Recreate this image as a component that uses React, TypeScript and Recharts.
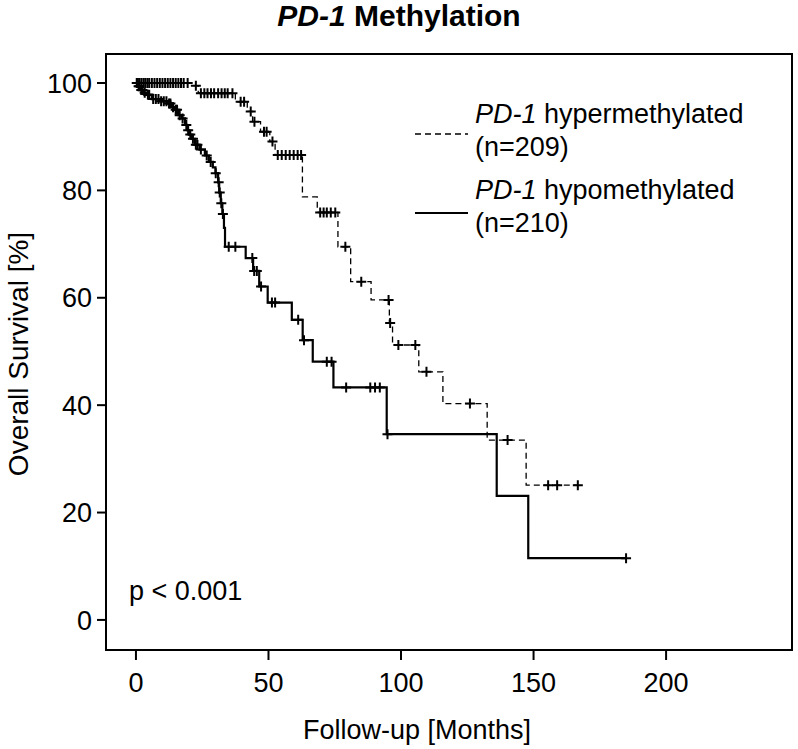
import { ComposedChart, Line, Scatter, XAxis, YAxis, ReferenceArea } from 'recharts';

// step curves (time in months, overall survival in %)
const hyperTime = [0, 21, 23.5, 37.5, 42, 44, 47, 50.5, 52.5, 62.8, 68.4, 76.2, 81, 88.7, 95.6, 96.8, 106.7, 115.8, 132.5, 147.2, 166.7];
const hyperSurv = [100, 99.5, 98.1, 96.5, 94.7, 92.8, 90.9, 89.1, 86.6, 78.8, 75.9, 69.5, 63, 59.6, 55.3, 51.2, 46.2, 40.3, 33.5, 25.1, 25.1];

const hypoTime = [0, 0.8, 1.5, 3, 4, 6, 9, 12, 13.5, 14.5, 16, 17.2, 18.5, 19.3, 20, 21, 22.3, 24, 26, 27.5, 29, 30, 31, 31.4, 32, 32.6, 33.2, 33.6, 41.4, 44.2, 46.5, 49.7, 58.8, 62.9, 66.7, 74.5, 94.6, 136.1, 148, 184.9];
const hypoSurv = [100, 99.4, 98.7, 98.2, 97.8, 97, 96.6, 96.2, 95.5, 95, 94, 93.4, 92.2, 91.2, 90.4, 89.6, 88.5, 87.6, 86.5, 85.3, 84.3, 83.2, 81.5, 79.6, 77.6, 75.6, 73, 69.5, 67.4, 65, 62.1, 59.1, 55.9, 52.1, 48.1, 43.3, 34.6, 23.1, 11.5, 11.5];

// censored observations
const hyperCensTime = [0.5, 1.2, 2, 2.8, 3.5, 4.3, 5, 6, 7, 8, 9, 10, 11, 12, 13, 14, 15, 16, 17, 18, 19.5, 22.6, 24.5, 25.8, 27, 28.3, 29.5, 31, 32.3, 33.5, 34.6, 36.4, 39.5, 40.8, 43.3, 44.7, 48.3, 49.3, 51.5, 53.5, 55, 56.5, 58, 59.5, 61, 62.3, 69.5, 70.8, 72, 73.5, 75.2, 79, 85, 95.3, 95.9, 99, 105.4, 109.6, 126, 140.2, 155.5, 158.9, 166.7];
const hyperCensSurv = [100, 100, 100, 100, 100, 100, 100, 100, 100, 100, 100, 100, 100, 100, 100, 100, 100, 100, 100, 100, 100, 99.5, 98.1, 98.1, 98.1, 98.1, 98.1, 98.1, 98.1, 98.1, 98.1, 98.1, 96.5, 96.5, 94.7, 92.8, 90.9, 90.9, 89.1, 86.6, 86.6, 86.6, 86.6, 86.6, 86.6, 86.6, 75.9, 75.9, 75.9, 75.9, 75.9, 69.5, 63, 59.6, 55.3, 51.2, 51.2, 46.2, 40.3, 33.5, 25.1, 25.1, 25.1];

const hypoCensTime = [0.3, 0.6, 1, 1.3, 2, 2.5, 3.3, 4.5, 5, 6.5, 7.5, 8.5, 9.5, 10.5, 11.5, 12.5, 13, 14, 15, 15.5, 16.5, 17.6, 19, 19.7, 20.5, 21.5, 22.6, 23.2, 24.5, 26.7, 28.2, 30.1, 31.2, 31.6, 32.2, 32.8, 35, 37.5, 43.9, 44.6, 45.6, 47.2, 51.3, 52.5, 61.2, 63.4, 72, 73.8, 79.3, 88.4, 90.2, 92, 94.9, 184.9];
const hypoCensSurv = [100, 100, 99.4, 99.4, 98.7, 98.7, 98.2, 97.8, 97.8, 97, 97, 97, 96.6, 96.6, 96.6, 96.2, 96.2, 95.5, 95, 95, 94, 93.4, 92.2, 91.2, 90.4, 89.6, 88.5, 88.5, 87.6, 86.5, 85.3, 83.2, 81.5, 79.6, 77.6, 75.6, 69.5, 69.5, 67.4, 65, 65, 62.1, 59.1, 59.1, 55.9, 52.1, 48.1, 48.1, 43.3, 43.3, 43.3, 43.3, 34.6, 11.5];

const xTicks = [0, 50, 100, 150, 200];
const yTicks = [0, 20, 40, 60, 80, 100];

const zip = (t: number[], s: number[]) => t.map((v, i) => ({ t: v, s: s[i] }));

const hyperData = zip(hyperTime, hyperSurv);
const hypoData = zip(hypoTime, hypoSurv);
const hyperCens = zip(hyperCensTime, hyperCensSurv);
const hypoCens = zip(hypoCensTime, hypoCensSurv);

const FONT = '"Liberation Sans", Arial, sans-serif';

const Cross = (props: any) => {
  const { cx, cy } = props;
  if (cx == null || cy == null) return null;
  return (
    <path d={`M${cx - 5},${cy}H${cx + 5}M${cx},${cy - 5}V${cy + 5}`} stroke="#000" strokeWidth={2} fill="none" />
  );
};

export default function App() {
  return (
    <div style={{ position: 'absolute', left: 0, top: 0, width: 798, height: 749, background: '#fff', fontFamily: FONT }}>
      <div style={{ position: 'absolute', left: 0, width: 798, top: -1, textAlign: 'center', fontSize: 30, fontWeight: 'bold', lineHeight: '34px' }}>
        <i>PD-1</i> Methylation
      </div>
      <ComposedChart width={798} height={749} margin={{ top: 54, right: 6, bottom: 59, left: 46 }}>
        <XAxis
          dataKey="t"
          type="number"
          domain={[-11.3, 247.5]}
          ticks={xTicks}
          axisLine={false}
          tickSize={10}
          tickMargin={13}
          height={40}
          tickLine={{ stroke: '#000', strokeWidth: 2 }}
          tick={{ fill: '#000', fontSize: 27, fontFamily: FONT }}
          allowDataOverflow
        />
        <YAxis
          dataKey="s"
          type="number"
          domain={[-5.6, 105.4]}
          ticks={yTicks}
          axisLine={false}
          tickSize={9}
          tickMargin={5}
          width={60}
          tickLine={{ stroke: '#000', strokeWidth: 2 }}
          tick={{ fill: '#000', fontSize: 27, fontFamily: FONT }}
          allowDataOverflow
        />
        <ReferenceArea x1={-11.3} x2={247.5} y1={-5.6} y2={105.4} fill="none" fillOpacity={0} stroke="#000" strokeWidth={2} ifOverflow="visible" />
        <Line data={hyperData} dataKey="s" type="stepAfter" stroke="#000" strokeWidth={1.3} strokeDasharray="6 4" dot={false} isAnimationActive={false} />
        <Line data={hypoData} dataKey="s" type="stepAfter" stroke="#000" strokeWidth={2.2} dot={false} isAnimationActive={false} />
        <Scatter data={hyperCens} dataKey="s" shape={Cross} isAnimationActive={false} />
        <Scatter data={hypoCens} dataKey="s" shape={Cross} isAnimationActive={false} />
      </ComposedChart>
      <svg style={{ position: 'absolute', left: 0, top: 0 }} width={798} height={749}>
        <line x1={415} x2={468} y1={134} y2={134} stroke="#000" strokeWidth={1.3} strokeDasharray="6 4" />
        <line x1={415} x2={468} y1={213} y2={213} stroke="#000" strokeWidth={2.2} />
      </svg>
      <div style={{ position: 'absolute', left: 475, top: 98, fontSize: 27, lineHeight: '33px', whiteSpace: 'nowrap' }}>
        <i>PD-1</i> hypermethylated<br />(n=209)
      </div>
      <div style={{ position: 'absolute', left: 475, top: 174, fontSize: 27, lineHeight: '33px', whiteSpace: 'nowrap' }}>
        <i>PD-1</i> hypomethylated<br />(n=210)
      </div>
      <div style={{ position: 'absolute', left: 129, top: 578, fontSize: 27, lineHeight: '27px' }}>p &lt; 0.001</div>
      <div style={{ position: 'absolute', left: 117, width: 600, top: 717, textAlign: 'center', fontSize: 27, lineHeight: '27px' }}>
        Follow-up [Months]
      </div>
      <div
        style={{
          position: 'absolute', left: 19, top: 354, fontSize: 28, lineHeight: '30px', whiteSpace: 'nowrap',
          transform: 'translate(-50%, -50%) rotate(-90deg)',
        }}
      >
        Overall Survival [%]
      </div>
    </div>
  );
}
